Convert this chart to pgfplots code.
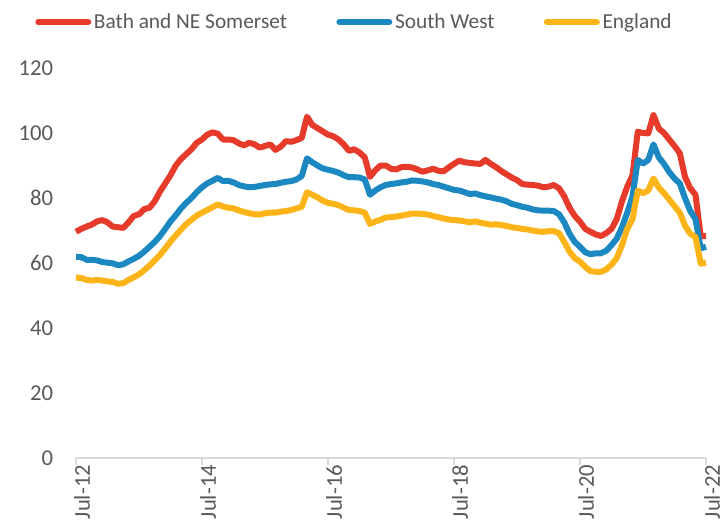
\documentclass[border=0pt]{standalone}
\usepackage{fontspec}
\setmainfont{Carlito}
\usepackage{pgfplots}
\usepackage{pgfplotstable}
\pgfplotsset{compat=1.18}
\definecolor{cred}{HTML}{E63A2B}
\definecolor{cblue}{HTML}{1C88C1}
\definecolor{cyellow}{HTML}{FCB419}
\definecolor{ctext}{HTML}{595959}
\definecolor{caxis}{HTML}{D9D9D9}

\pgfplotstableread{
m bath sw eng
0 69.6 61.9 55.5
1 70.5 61.8 55.4
2 71.2 61.0 54.8
3 71.8 61.0 54.6
4 72.8 60.8 54.8
5 73.2 60.3 54.6
6 72.5 60.1 54.3
7 71.2 59.9 54.2
8 71.0 59.3 53.6
9 70.8 59.6 53.8
10 72.5 60.5 54.8
11 74.5 61.3 55.6
12 75.0 62.2 56.5
13 76.6 63.5 57.8
14 77.0 65.0 59.2
15 79.0 66.5 60.8
16 82.0 68.3 62.5
17 84.5 70.5 64.5
18 87.0 72.8 66.6
19 90.0 74.7 68.5
20 92.0 76.8 70.3
21 93.5 78.5 72.0
22 95.0 80.0 73.3
23 97.0 81.8 74.6
24 98.0 83.3 75.5
25 99.5 84.5 76.3
26 100.2 85.3 77.2
27 99.8 86.2 78.0
28 98.0 85.2 77.4
29 98.0 85.3 77.0
30 97.8 84.8 76.8
31 96.8 84.0 76.2
32 96.2 83.6 75.7
33 97.0 83.3 75.3
34 96.5 83.4 75.0
35 95.5 83.7 74.9
36 96.0 84.0 75.3
37 96.5 84.2 75.5
38 94.8 84.3 75.5
39 95.8 84.7 75.8
40 97.5 85.0 76.0
41 97.3 85.2 76.3
42 97.8 85.7 76.8
43 98.5 86.8 77.3
44 105.0 92.2 81.8
45 102.5 91.0 81.0
46 101.5 90.0 80.2
47 100.5 89.1 79.2
48 99.5 88.7 78.5
49 99.0 88.3 78.2
50 98.0 87.8 77.8
51 96.5 87.0 77.0
52 94.5 86.4 76.3
53 95.0 86.4 76.2
54 94.0 86.3 76.0
55 92.5 85.7 75.5
56 86.5 81.0 72.0
57 88.5 82.3 72.8
58 90.0 83.3 73.3
59 90.0 84.0 74.0
60 89.0 84.3 74.1
61 88.8 84.5 74.3
62 89.5 84.8 74.6
63 89.6 85.0 74.9
64 89.4 85.4 75.2
65 88.8 85.3 75.2
66 88.1 85.1 75.1
67 88.5 84.8 74.9
68 89.0 84.3 74.5
69 88.4 84.0 74.1
70 88.2 83.5 73.7
71 89.4 83.0 73.4
72 90.5 82.5 73.2
73 91.5 82.3 73.1
74 91.0 81.8 72.8
75 90.8 81.2 72.5
76 90.6 81.4 72.8
77 90.5 80.9 72.4
78 91.7 80.5 72.1
79 90.5 80.2 71.8
80 89.5 79.8 71.9
81 88.3 79.5 71.7
82 87.3 79.0 71.4
83 86.3 78.2 71.0
84 85.5 77.8 70.8
85 84.3 77.3 70.5
86 84.1 77.0 70.3
87 84.0 76.5 70.0
88 83.8 76.2 69.7
89 83.3 76.1 69.6
90 83.5 76.1 69.8
91 84.0 76.0 69.8
92 83.0 75.0 69.2
93 80.5 72.5 66.5
94 77.0 69.0 63.5
95 74.5 66.5 61.5
96 72.7 65.0 60.4
97 70.5 63.3 58.8
98 69.6 62.7 57.5
99 68.8 63.0 57.3
100 68.3 63.0 57.3
101 69.2 63.8 58.0
102 70.5 65.5 59.5
103 73.5 67.5 61.5
104 79.0 71.0 65.5
105 83.5 75.5 70.5
106 87.0 80.5 73.5
107 100.4 91.7 82.3
108 100.0 90.6 81.5
109 99.9 91.7 82.3
110 105.5 96.5 86.0
111 101.4 92.5 83.2
112 100.0 90.5 81.5
113 98.0 88.0 79.5
114 96.0 86.0 77.5
115 93.8 84.5 75.5
116 86.5 80.0 71.5
117 83.0 76.0 69.0
118 81.0 73.5 68.0
119 68.2 64.5 59.8
120 68.3 65.0 60.1
}\datatable

\begin{document}
\begin{tikzpicture}
\begin{axis}[
  scale only axis,
  width=472.5pt, height=292.5pt,
  xmin=0, xmax=120, ymin=0, ymax=120,
  clip=false,
  axis x line*=bottom, axis y line*=left,
  y axis line style={draw=none},
  x axis line style={caxis, line width=1.2pt},
  xtick={0,24,...,120},
  xticklabels={Jul-12,Jul-14,Jul-16,Jul-18,Jul-20,Jul-22},
  ytick={0,20,...,120},
  ytick style={draw=none},
  xtick style={caxis, line width=1.2pt},
  tick align=outside,
  major tick length=5pt,
  /pgf/number format/assume math mode=true,
  ticklabel style={font=\fontsize{17}{20}\selectfont, text=ctext},
  x tick label style={rotate=90, anchor=east, xshift=0pt, yshift=-4.5pt, inner sep=0pt},
  y tick label style={anchor=east, inner sep=0pt, xshift=-12pt},
  legend columns=3,
  legend style={at={(-0.065,1.118)}, anchor=west, draw=none, fill=none,
    inner sep=0pt, font=\fontsize{16}{19}\selectfont, text=ctext,
    nodes={inner xsep=2pt, inner ysep=0pt},
    /tikz/every even column/.append style={column sep=35pt}},
  legend cell align=left,
  legend image code/.code={\draw[#1, line width=4.5pt, line cap=round] (2.25pt,0pt) -- (39.75pt,0pt);},
]
\addplot[cred, line width=4.5pt, line join=round, no markers] table[x=m, y=bath]{\datatable};
\addlegendentry{Bath and NE Somerset}
\addplot[cblue, line width=4.5pt, line join=round, no markers] table[x=m, y=sw]{\datatable};
\addlegendentry{South West}
\addplot[cyellow, line width=4.5pt, line join=round, no markers] table[x=m, y=eng]{\datatable};
\addlegendentry{England}
\end{axis}
\pgfresetboundingbox
\path[use as bounding box] (-57pt,-51pt) rectangle (489pt,343.5pt);
\end{tikzpicture}
\end{document}
